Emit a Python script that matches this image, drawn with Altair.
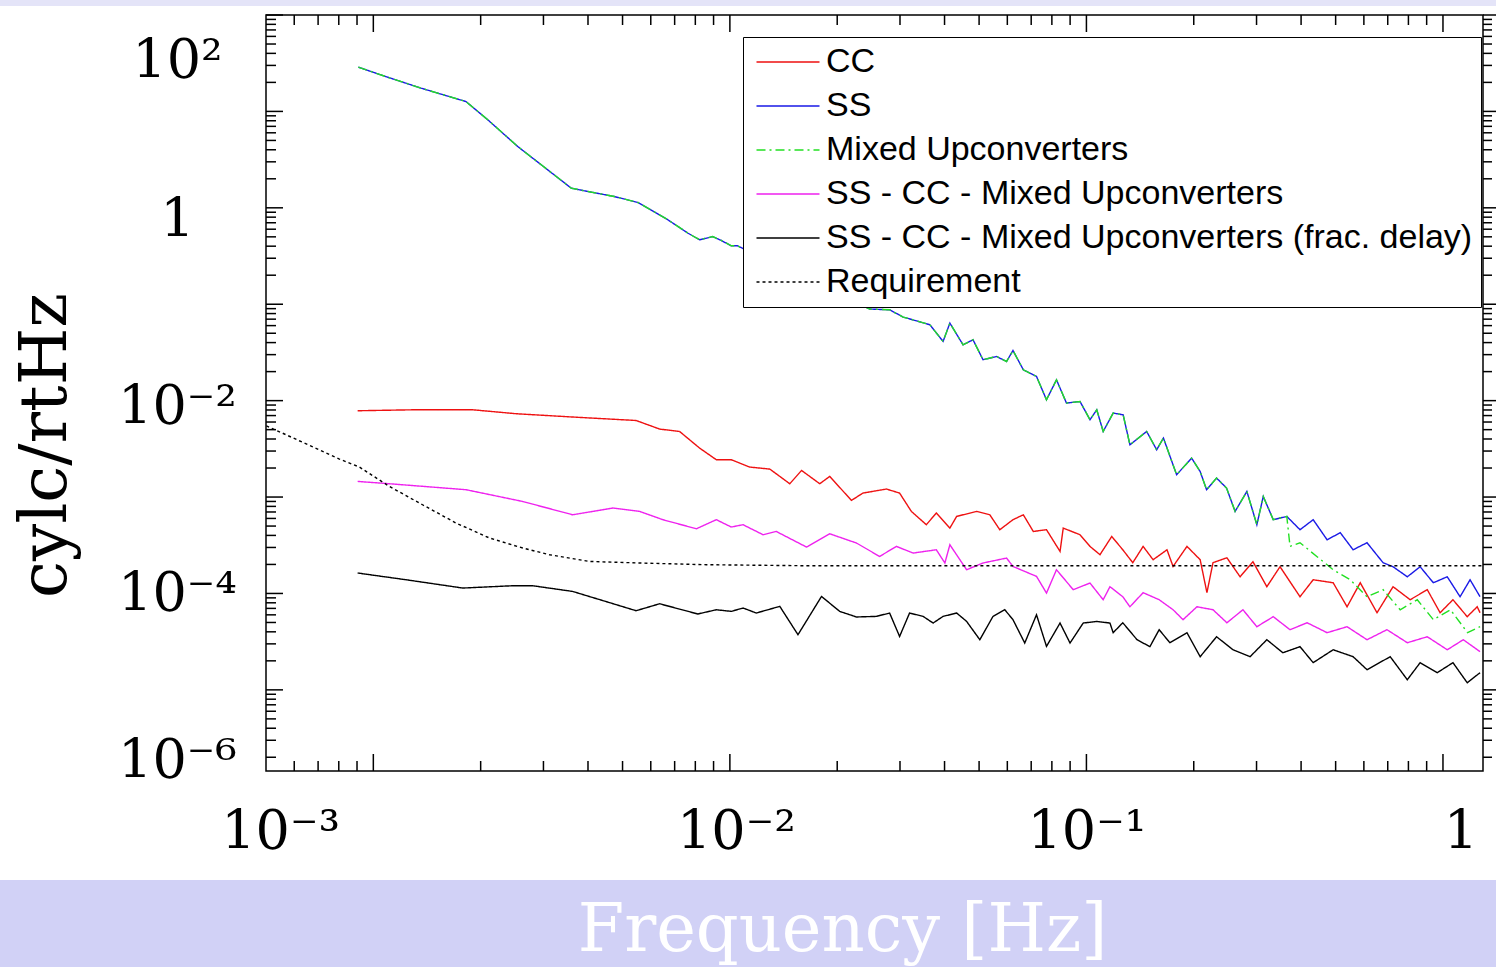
import altair as alt
import pandas as pd

# ---------------------------------------------------------------------------
# Series (drawn in this order) and styles
SERIES = ["CC", "SS", "Mixed Upconverters", "SS - CC - Mixed Upconverters",
          "SS - CC - Mixed Upconverters (frac. delay)", "Requirement"]
COLORS = ["#ee1111", "#1a1ae6", "#22e022", "#ee22ee", "#000000", "#000000"]
DASHES = [[1, 0], [1, 0], [9, 4, 2, 4], [1, 0], [1, 0], [3, 3]]

# Values, as log10(frequency [Hz]) and log10(amplitude [cylc/rtHz])
ss_mixed_common_logf = [-3.042, -2.960, -2.866, -2.740, -2.679, -2.595, -2.529, -2.445, -2.398, -2.324,
                        -2.258, -2.174, -2.118, -2.085, -2.048, -2.024, -1.996, -1.979, -1.608, -1.552,
                        -1.514, -1.439, -1.402, -1.383, -1.346, -1.318, -1.290, -1.252, -1.224, -1.206,
                        -1.177, -1.140, -1.112, -1.084, -1.056, -1.018, -0.990, -0.971, -0.953, -0.925,
                        -0.897, -0.878, -0.831, -0.803, -0.784, -0.747, -0.705, -0.681, -0.663, -0.635,
                        -0.607, -0.583, -0.550, -0.522, -0.504, -0.476, -0.438]
ss_mixed_common_loga = [1.459, 1.355, 1.241, 1.102, 0.913, 0.636, 0.446, 0.204, 0.169, 0.117,
                        0.055, -0.124, -0.262, -0.332, -0.298, -0.339, -0.394, -0.394, -1.050, -1.058,
                        -1.133, -1.213, -1.386, -1.196, -1.421, -1.369, -1.576, -1.542, -1.594, -1.480,
                        -1.680, -1.749, -1.991, -1.784, -2.025, -2.009, -2.198, -2.095, -2.320, -2.129,
                        -2.147, -2.458, -2.320, -2.510, -2.388, -2.769, -2.596, -2.735, -2.924, -2.803,
                        -2.907, -3.149, -2.942, -3.287, -2.994, -3.235, -3.201]

ss_tail_logf = [-0.401, -0.364, -0.325, -0.288, -0.252, -0.213, -0.168, -0.140, -0.100, -0.064,
                -0.027, 0.012, 0.048, 0.076, 0.104]
ss_tail_loga = [-3.339, -3.235, -3.443, -3.370, -3.547, -3.474, -3.681, -3.723, -3.827, -3.723,
                -3.889, -3.827, -4.034, -3.858, -4.034]

mixed_tail_logf = [-0.429, -0.401, -0.353, -0.308, -0.260, -0.213, -0.168, -0.120, -0.072, -0.027,
                   0.021, 0.069, 0.104]
mixed_tail_loga = [-3.512, -3.474, -3.619, -3.754, -3.858, -4.034, -3.961, -4.169, -4.065, -4.272,
                   -4.169, -4.407, -4.345]

cc_logf = [-3.044, -2.890, -2.721, -2.599, -2.441, -2.263, -2.197, -2.141, -2.085, -2.038,
           -1.996, -1.945, -1.888, -1.832, -1.799, -1.748, -1.720, -1.659, -1.627, -1.561,
           -1.524, -1.491, -1.449, -1.421, -1.383, -1.364, -1.308, -1.271, -1.243, -1.206,
           -1.177, -1.149, -1.112, -1.074, -1.065, -1.018, -0.990, -0.962, -0.929, -0.898,
           -0.870, -0.841, -0.813, -0.774, -0.757, -0.718, -0.681, -0.662, -0.645, -0.606,
           -0.569, -0.533, -0.494, -0.457, -0.401, -0.364, -0.308, -0.269, -0.232, -0.185,
           -0.140, -0.092, -0.044, -0.008, 0.028, 0.068, 0.096, 0.104]
cc_loga = [-2.105, -2.095, -2.095, -2.136, -2.170, -2.206, -2.295, -2.320, -2.492, -2.613,
           -2.613, -2.689, -2.710, -2.862, -2.724, -2.862, -2.786, -3.035, -2.959, -2.917,
           -2.959, -3.149, -3.287, -3.166, -3.322, -3.201, -3.149, -3.184, -3.339, -3.235,
           -3.184, -3.357, -3.339, -3.564, -3.322, -3.391, -3.512, -3.598, -3.409, -3.547,
           -3.681, -3.512, -3.650, -3.547, -3.720, -3.512, -3.650, -3.992, -3.681, -3.630,
           -3.827, -3.671, -3.930, -3.723, -4.034, -3.858, -3.889, -4.138, -3.889, -4.200,
           -3.930, -4.065, -3.961, -4.200, -4.065, -4.241, -4.138, -4.200]

diff_logf = [-3.044, -2.955, -2.740, -2.581, -2.441, -2.328, -2.253, -2.188, -2.094, -2.038,
             -1.996, -1.963, -1.907, -1.870, -1.785, -1.720, -1.645, -1.580, -1.533, -1.486,
             -1.421, -1.397, -1.383, -1.336, -1.290, -1.224, -1.206, -1.140, -1.112, -1.084,
             -1.037, -0.990, -0.953, -0.934, -0.898, -0.878, -0.841, -0.796, -0.757, -0.729,
             -0.690, -0.645, -0.606, -0.561, -0.522, -0.476, -0.429, -0.381, -0.325, -0.269,
             -0.213, -0.157, -0.100, -0.044, 0.012, 0.057, 0.104]
diff_loga = [-2.838, -2.862, -2.924, -3.046, -3.184, -3.114, -3.149, -3.235, -3.329, -3.235,
             -3.311, -3.287, -3.391, -3.357, -3.519, -3.381, -3.477, -3.616, -3.512, -3.581,
             -3.547, -3.684, -3.495, -3.754, -3.684, -3.633, -3.720, -3.823, -3.996, -3.754,
             -3.961, -3.892, -4.065, -3.930, -4.034, -4.138, -3.992, -4.065, -4.169, -4.272,
             -4.138, -4.169, -4.304, -4.169, -4.345, -4.241, -4.376, -4.304, -4.407, -4.345,
             -4.480, -4.376, -4.511, -4.449, -4.584, -4.480, -4.604]

frac_logf = [-3.044, -2.908, -2.749, -2.609, -2.553, -2.441, -2.263, -2.197, -2.090, -2.038,
             -1.996, -1.963, -1.926, -1.860, -1.809, -1.743, -1.692, -1.645, -1.589, -1.552,
             -1.524, -1.496, -1.458, -1.430, -1.402, -1.364, -1.336, -1.299, -1.262, -1.229,
             -1.206, -1.173, -1.140, -1.112, -1.074, -1.046, -1.009, -0.971, -0.934, -0.925,
             -0.898, -0.858, -0.822, -0.796, -0.766, -0.718, -0.681, -0.635, -0.589, -0.541,
             -0.494, -0.449, -0.401, -0.364, -0.308, -0.252, -0.213, -0.148, -0.100, -0.064,
             -0.016, 0.028, 0.068, 0.104]
frac_loga = [-3.788, -3.858, -3.944, -3.920, -3.920, -3.979, -4.179, -4.107, -4.213, -4.169,
             -4.186, -4.151, -4.203, -4.134, -4.428, -4.031, -4.186, -4.244, -4.238, -4.203,
             -4.446, -4.203, -4.238, -4.307, -4.238, -4.203, -4.290, -4.480, -4.238, -4.169,
             -4.272, -4.514, -4.221, -4.549, -4.307, -4.514, -4.307, -4.290, -4.307, -4.407,
             -4.304, -4.480, -4.552, -4.376, -4.511, -4.407, -4.656, -4.449, -4.584, -4.656,
             -4.480, -4.615, -4.552, -4.718, -4.584, -4.656, -4.791, -4.656, -4.895, -4.718,
             -4.822, -4.718, -4.926, -4.822]

req_logf = [-3.300, -3.208, -3.095, -3.039, -2.955, -2.862, -2.768, -2.674, -2.581, -2.506,
            -2.394, -2.253, -2.066, -1.804, 0.110]
req_loga = [-2.261, -2.416, -2.606, -2.689, -2.890, -3.080, -3.270, -3.425, -3.529, -3.598,
            -3.668, -3.684, -3.702, -3.712, -3.712]

# Axis ticks and labels
X_DOMAIN = [5e-4, 1.295]
Y_DOMAIN = [1.44e-6, 100]
x_major_ticks = [1e-3, 1e-2, 1e-1, 1.0]
x_minor_ticks = [m * 10.0 ** k for k in (-4, -3, -2, -1) for m in range(2, 10)
                 if X_DOMAIN[0] < m * 10.0 ** k < X_DOMAIN[1]]
y_major_ticks = [10.0 ** k for k in range(-5, 3)]
y_minor_ticks = [m * 10.0 ** k for k in range(-6, 2) for m in range(2, 10)
                 if Y_DOMAIN[0] < m * 10.0 ** k < Y_DOMAIN[1]]
# tick labels are pasted on the slide slightly away from their ticks:
# these are the axis positions where the picture shows them
x_label_pos = [5.48e-4, 1.04e-2, 0.1, 1.12]
x_label_text = ["10⁻³", "10⁻²", "10⁻¹", "1"]
y_label_pos = [32.7, 0.733, 8.55e-3, 9.7e-5, 1.8e-6]
y_label_text = ["10²", "1", "10⁻²", "10⁻⁴", "10⁻⁶"]


def label_expr(pos, text):
    expr = "''"
    for p, t in zip(pos, text):
        expr = f"abs(log(datum.value) - log({p})) < 0.05 ? '{t}' : " + expr
    return expr

# ---------------------------------------------------------------------------
rows = []
def add(name, lf, la):
    for f, a in zip(lf, la):
        rows.append({"series": name, "freq": 10 ** f, "amp": 10 ** a})

add("CC", cc_logf, cc_loga)
add("SS", ss_mixed_common_logf + ss_tail_logf, ss_mixed_common_loga + ss_tail_loga)
add("Mixed Upconverters", ss_mixed_common_logf + mixed_tail_logf, ss_mixed_common_loga + mixed_tail_loga)
add("SS - CC - Mixed Upconverters", diff_logf, diff_loga)
add("SS - CC - Mixed Upconverters (frac. delay)", frac_logf, frac_loga)
add("Requirement", req_logf, req_loga)
df = pd.DataFrame(rows)

W, H = 1217, 756
MAJ, MIN = 17, 10
SERIF = "DejaVu Serif"

leg = alt.Legend(title=None, orient="none", legendX=477, legendY=22, direction="vertical",
                 labelFont="Liberation Sans", labelFontSize=34, labelColor="black", labelLimit=2000,
                 symbolType="M-3,0L3,0", symbolSize=441, symbolStrokeWidth=1.5,
                 symbolOffset=20, labelOffset=21, rowPadding=10, padding=8,
                 strokeColor="black", fillColor="white", cornerRadius=0)

x_axis = alt.Axis(values=x_label_pos, labelExpr=label_expr(x_label_pos, x_label_text),
                  domain=False, ticks=False, grid=False, labelFont=SERIF, labelFontSize=54,
                  labelColor="black", labelPadding=34, labelBaseline="top", labelAlign="center",
                  labelFlush=False, labelOverlap=False, labelBound=False, zindex=2,
                  title="Frequency [Hz]", titleFont=SERIF, titleFontSize=67, titleFontWeight="normal",
                  titleColor="white", titleX=576, titleY=179, titleAlign="center", titleBaseline="alphabetic")

y_axis = alt.Axis(values=y_label_pos, labelExpr=label_expr(y_label_pos, y_label_text),
                  domain=False, ticks=False, grid=False, labelFont=SERIF, labelFontSize=54,
                  labelColor="black", labelPadding=89, labelAlign="center", labelBaseline="middle",
                  labelFlush=False, labelOverlap=False, labelBound=False, zindex=2,
                  title="cylc/rtHz", titleFont=SERIF, titleFontSize=66, titleFontWeight="normal",
                  titleColor="black", titleX=-221, titleY=430, titleAngle=270, titleAlign="center",
                  titleBaseline="middle")

lines = alt.Chart(df).mark_line(strokeWidth=1.4).encode(
    x=alt.X("freq:Q", scale=alt.Scale(type="log", domain=X_DOMAIN, nice=False), axis=x_axis),
    y=alt.Y("amp:Q", scale=alt.Scale(type="log", domain=Y_DOMAIN, nice=False), axis=y_axis),
    color=alt.Color("series:N", scale=alt.Scale(domain=SERIES, range=COLORS), legend=leg),
    strokeDash=alt.StrokeDash("series:N", scale=alt.Scale(domain=SERIES, range=DASHES), legend=leg),
)

one = pd.DataFrame({"k": [0]})
band = alt.Chart(one).mark_rect(color="#d1d1f6").encode(
    x=alt.value(-266), x2=alt.value(W + 13), y=alt.value(865), y2=alt.value(952))
strip = alt.Chart(one).mark_rect(color="#e4e4f8").encode(
    x=alt.value(-266), x2=alt.value(W + 13), y=alt.value(-15), y2=alt.value(-9))

def xticks(vals, y0, y1):
    return alt.Chart(pd.DataFrame({"freq": vals})).mark_rule(color="black", strokeWidth=1.5).encode(
        x=alt.X("freq:Q"), y=alt.value(y0), y2=alt.value(y1))

def yticks(vals, x0, x1):
    return alt.Chart(pd.DataFrame({"amp": vals})).mark_rule(color="black", strokeWidth=1.5).encode(
        y=alt.Y("amp:Q"), x=alt.value(x0), x2=alt.value(x1))

ticks = [
    xticks(x_major_ticks, 0, MAJ), xticks(x_minor_ticks, 0, MIN),
    xticks(x_major_ticks, H - MAJ, H), xticks(x_minor_ticks, H - MIN, H),
    yticks(y_major_ticks, 0, MAJ), yticks(y_minor_ticks, 0, MIN),
    yticks(y_major_ticks, W, W + 14), yticks(y_minor_ticks, W, W + 9),
]

chart = alt.layer(lines, band, strip, *ticks).properties(
    width=W, height=H,
    autosize=alt.AutoSizeParams(type="none"),
    padding={"left": 266, "top": 15, "right": 13, "bottom": 196},
    background="white",
).configure_view(stroke="black", strokeWidth=1.5)

chart.save("out.html", embed_options={"renderer": "svg", "actions": False})
